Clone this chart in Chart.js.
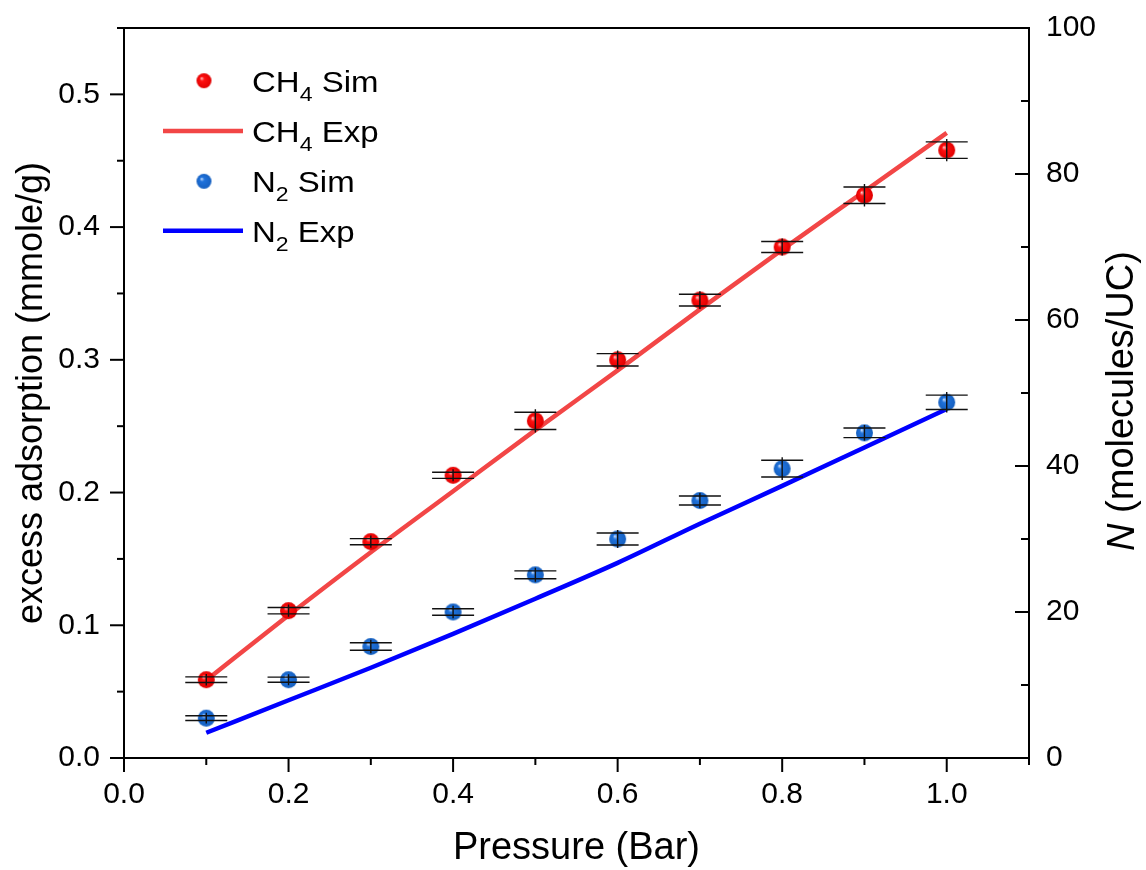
<!DOCTYPE html>
<html><head><meta charset="utf-8">
<script src="https://cdn.jsdelivr.net/npm/chart.js@4.4.0/dist/chart.umd.min.js"></script>
<style>html,body{margin:0;padding:0;background:#fff;}#wrap{width:1146px;height:870px;}</style>
</head><body><div id="wrap"><canvas id="c" width="1146" height="870"></canvas></div>
<script>
// ---- data ----
const pressure   = [0.1, 0.2, 0.3, 0.4, 0.5, 0.6, 0.7, 0.8, 0.9, 1.0];
const ch4Sim     = [0.059, 0.111, 0.163, 0.213, 0.254, 0.300, 0.345, 0.385, 0.424, 0.458];
const ch4SimErr  = [0.0021, 0.0024, 0.0023, 0.0023, 0.0065, 0.0047, 0.0044, 0.0041, 0.0062, 0.0062];
const n2Sim      = [0.030, 0.059, 0.084, 0.110, 0.138, 0.165, 0.194, 0.218, 0.245, 0.268];
const n2SimErr   = [0.0018, 0.0019, 0.0028, 0.0025, 0.0030, 0.0045, 0.0034, 0.0063, 0.0036, 0.0054];
const ch4Exp     = [0.0586, 0.1075, 0.155, 0.201, 0.247, 0.292, 0.338, 0.383, 0.427, 0.471];
const n2Exp      = [0.019, 0.0435, 0.068, 0.0935, 0.120, 0.147, 0.1765, 0.205, 0.234, 0.263];
const xMajorTicks = [0, 0.2, 0.4, 0.6, 0.8, 1.0];
const xMinorTicks = [0.1, 0.3, 0.5, 0.7, 0.9, 1.1];
const yMajorTicks = [0, 0.1, 0.2, 0.3, 0.4, 0.5];
const yMinorTicks = [0.05, 0.15, 0.25, 0.35, 0.45, 0.55];
const y2MajorTicks = [0, 20, 40, 60, 80, 100];
const y2MinorTicks = [10, 30, 50, 70, 90];
const legendLabels = [
  [{t:'CH'},{t:'4',sub:true},{t:' Sim'}],
  [{t:'CH'},{t:'4',sub:true},{t:' Exp'}],
  [{t:'N'},{t:'2',sub:true},{t:' Sim'}],
  [{t:'N'},{t:'2',sub:true},{t:' Exp'}]
];
const xTitle = 'Pressure (Bar)';
const yTitle = 'excess adsorption (mmole/g)';
const y2TitleItalic = 'N';
const y2TitleRest = ' (molecules/UC)';

// ---- styles ----
const FONT = "'Liberation Sans', Arial, sans-serif";
function sphere(color, light, dark, r){
  const s = Math.ceil(r*2)+2;
  const c = document.createElement('canvas'); c.width = s; c.height = s;
  const g = c.getContext('2d'); const cx = s/2;
  const grad = g.createRadialGradient(cx - r*0.35, cx - r*0.35, 0, cx, cx, r);
  grad.addColorStop(0, light); grad.addColorStop(0.3, color); grad.addColorStop(1, dark);
  g.fillStyle = grad; g.beginPath(); g.arc(cx, cx, r, 0, Math.PI*2); g.fill();
  return c;
}
const redBall  = sphere('#ff1010', '#ffd8d8', '#e00000', 8.5);
const blueBall = sphere('#1f72dc', '#d8e8ff', '#1660c0', 8.5);
const redBallL  = sphere('#ff1010', '#ffd8d8', '#e00000', 7.5);
const blueBallL = sphere('#1f72dc', '#d8e8ff', '#1660c0', 7.5);
const CH4_LINE = '#f24646';
const N2_LINE = '#0000ff';

const pts = (ys) => pressure.map((x,i) => ({x, y: ys[i]}));

const decor = {
  id: 'decor',
  beforeDatasetsDraw(chart){
    const {ctx, chartArea: a, scales} = chart;
    ctx.save();
    ctx.strokeStyle = '#000'; ctx.lineWidth = 2; ctx.lineCap = 'butt';
    ctx.strokeRect(a.left, a.top, a.right - a.left, a.bottom - a.top);
    const line = (x1,y1,x2,y2) => { ctx.beginPath(); ctx.moveTo(x1,y1); ctx.lineTo(x2,y2); ctx.stroke(); };
    xMajorTicks.forEach(v => { const p = scales.x.getPixelForValue(v); line(p, a.bottom, p, a.bottom + 14); });
    xMinorTicks.forEach(v => { const p = scales.x.getPixelForValue(v); line(p, a.bottom, p, a.bottom + 7); });
    yMajorTicks.forEach(v => { const p = scales.y.getPixelForValue(v); line(a.left - 14, p, a.left, p); });
    yMinorTicks.forEach(v => { const p = scales.y.getPixelForValue(v); line(a.left - 7, p, a.left, p); });
    y2MajorTicks.forEach(v => { const p = scales.y2.getPixelForValue(v); line(a.right - 14, p, a.right, p); });
    y2MinorTicks.forEach(v => { const p = scales.y2.getPixelForValue(v); line(a.right - 8, p, a.right, p); });
    ctx.restore();
  },
  afterDatasetsDraw(chart){
    const {ctx, scales} = chart;
    ctx.save();
    ctx.strokeStyle = '#111'; ctx.lineWidth = 1.4;
    const bars = (ys, errs) => {
      pressure.forEach((xv, i) => {
        const x = scales.x.getPixelForValue(xv);
        const yt = scales.y.getPixelForValue(ys[i] + errs[i]);
        const yb = scales.y.getPixelForValue(ys[i] - errs[i]);
        ctx.beginPath();
        ctx.moveTo(x - 21, yt); ctx.lineTo(x + 21, yt);
        ctx.moveTo(x - 21, yb); ctx.lineTo(x + 21, yb);
        ctx.moveTo(x, yt - 3); ctx.lineTo(x, yb + 3);
        ctx.stroke();
      });
    };
    bars(ch4Sim, ch4SimErr);
    bars(n2Sim, n2SimErr);
    ctx.restore();
  },
  afterDraw(chart){
    const {ctx, chartArea: a} = chart;
    ctx.save();
    // legend
    const rows = [80.7, 131, 181.3, 230.7];
    const items = [
      {type:'pt', img: redBallL}, {type:'ln', color: CH4_LINE},
      {type:'pt', img: blueBallL}, {type:'ln', color: N2_LINE}
    ];
    items.forEach((it, k) => {
      const y = rows[k];
      if (it.type === 'pt') {
        ctx.drawImage(it.img, 204 - it.img.width/2, y - it.img.height/2);
      } else {
        ctx.strokeStyle = it.color; ctx.lineWidth = 4.5; ctx.lineCap = 'butt';
        ctx.beginPath(); ctx.moveTo(163, y); ctx.lineTo(243, y); ctx.stroke();
      }
      const base = y + 11;
      ctx.save();
      ctx.translate(252, base);
      ctx.scale(1.1, 1);
      let x = 0;
      ctx.fillStyle = '#000'; ctx.textBaseline = 'alphabetic'; ctx.textAlign = 'left';
      legendLabels[k].forEach(p => {
        if (p.sub) { ctx.font = '21px ' + FONT; ctx.fillText(p.t, x, 9); }
        else { ctx.font = '30px ' + FONT; ctx.fillText(p.t, x, 0); }
        x += ctx.measureText(p.t).width;
      });
      ctx.restore();
    });
    // right axis title
    ctx.translate(1123, (a.top + a.bottom)/2 + 8);
    ctx.rotate(-Math.PI/2);
    ctx.textBaseline = 'middle'; ctx.textAlign = 'left'; ctx.fillStyle = '#000';
    ctx.font = 'italic 38px ' + FONT; const w1 = ctx.measureText(y2TitleItalic).width;
    ctx.font = '38px ' + FONT; const w2 = ctx.measureText(y2TitleRest).width;
    const start = -(w1 + w2)/2;
    ctx.font = 'italic 38px ' + FONT; ctx.fillText(y2TitleItalic, start, 0);
    ctx.font = '38px ' + FONT; ctx.fillText(y2TitleRest, start + w1, 0);
    ctx.restore();
  }
};

const zeroPad = s => { s.paddingTop = 0; s.paddingBottom = 0; s.paddingLeft = 0; s.paddingRight = 0; };
const tickFont = {family: FONT, size: 30};
new Chart(document.getElementById('c'), {
  type: 'scatter',
  data: {
    datasets: [
      {label: 'CH4 Sim', data: pts(ch4Sim), pointStyle: redBall, pointRadius: 8.5, showLine: false, order: 0},
      {label: 'CH4 Exp', data: pts(ch4Exp), showLine: true, borderColor: CH4_LINE, borderWidth: 4.5, pointRadius: 0, cubicInterpolationMode: 'monotone', order: 2},
      {label: 'N2 Sim', data: pts(n2Sim), pointStyle: blueBall, pointRadius: 8.5, showLine: false, order: 1},
      {label: 'N2 Exp', data: pts(n2Exp), showLine: true, borderColor: N2_LINE, borderWidth: 4.5, pointRadius: 0, cubicInterpolationMode: 'monotone', order: 3}
    ]
  },
  options: {
    responsive: false, animation: false, devicePixelRatio: 1,
    layout: {padding: {top: 28, left: 0, right: 0, bottom: 0}},
    plugins: {legend: {display: false}, tooltip: {enabled: false}},
    scales: {
      x: {
        type: 'linear', position: 'bottom', min: 0, max: 1.1,
        grid: {display: false, drawTicks: false}, border: {display: false},
        ticks: {stepSize: 0.2, includeBounds: false, color: '#000', font: tickFont, padding: 19,
                callback: v => Number(v).toFixed(1), maxRotation: 0, autoSkip: false},
        title: {display: true, text: xTitle, color: '#000', font: {family: FONT, size: 38, lineHeight: 1}, padding: {top: 0, bottom: 2}},
        afterFit: s => { s.height = 112; zeroPad(s); }
      },
      y: {
        type: 'linear', position: 'left', min: 0, max: 0.55,
        grid: {display: false, drawTicks: false}, border: {display: false},
        ticks: {stepSize: 0.1, includeBounds: false, color: '#000', font: tickFont, padding: 24,
                callback: v => Number(v).toFixed(1), autoSkip: false},
        title: {display: true, text: yTitle, color: '#000', font: {family: FONT, size: 36, lineHeight: 1}, padding: {top: 14, bottom: 0}},
        afterFit: s => { s.width = 124; zeroPad(s); }
      },
      y2: {
        type: 'linear', position: 'right', min: 0, max: 100,
        grid: {display: false, drawTicks: false}, border: {display: false},
        ticks: {stepSize: 20, includeBounds: false, color: '#000', font: tickFont, padding: 17, autoSkip: false},
        afterFit: s => { s.width = 117; zeroPad(s); }
      }
    }
  },
  plugins: [decor]
});
</script></body></html>
